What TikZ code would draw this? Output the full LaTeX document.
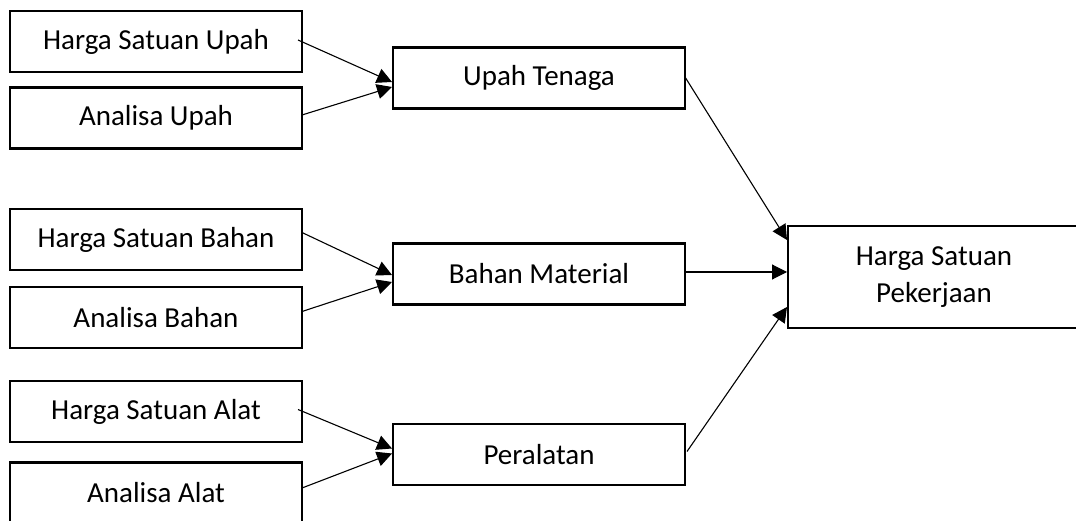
\documentclass[tikz,border=0pt]{standalone}
\usepackage{fontspec}
\setmainfont{Carlito}
\usetikzlibrary{arrows.meta,calc}

\tikzset{
  box/.style={draw=black, line width=2.6pt, fill=white, minimum width=292pt,
    minimum height=61pt, inner sep=0pt, outer sep=0pt, align=center,
    font=\fontsize{29}{36.7}\selectfont},
  bigbox/.style={box, minimum height=102pt},
  arr/.style={draw=black, line width=1.1pt,
    -{Triangle[length=15pt,width=15pt]}},
}

\begin{document}
\begin{tikzpicture}[x=1pt,y=-1pt]
  \clip (0,0) rectangle (1076,521);
  \fill[white] (0,0) rectangle (1076,521);

  % inputs
  \node[box] (hsu) at (156,41.5)  {Harga Satuan Upah};
  \node[box] (au)  at (156,118)   {Analisa Upah};
  \node[box] (hsb) at (156,239.5) {Harga Satuan Bahan};
  \node[box] (ab)  at (156,317.5) {Analisa Bahan};
  \node[box] (hsa) at (156,411.5) {Harga Satuan Alat};
  \node[box] (aa)  at (156,493)   {Analisa Alat};

  % cost components
  \node[box] (ut) at (539,78)    {Upah Tenaga};
  \node[box] (bm) at (539,274)   {Bahan Material};
  \node[box] (pe) at (539,454.5) {Peralatan};

  % result
  \node[bigbox] (hsp) at (934,277) {Harga Satuan\\Pekerjaan};

  % connectors into the components
  \draw[arr] ($(hsu.east)+(-4,-1.5)$) -- ($(ut.west)+(-1,4)$);
  \draw[arr] ($(au.east)+(0,-3)$)     -- ($(ut.west)+(-1,9)$);
  \draw[arr] ($(hsb.east)+(0,-7)$)    -- ($(bm.west)+(-1,1)$);
  \draw[arr] ($(ab.east)+(0,-6)$)     -- ($(bm.west)+(-1,8)$);
  \draw[arr] ($(hsa.east)+(-4,-2)$)   -- ($(pe.west)+(-1,-6)$);
  \draw[arr] ($(aa.east)+(0,-5)$)     -- ($(pe.west)+(-1,-1)$);

  % connectors into the result
  \draw[arr] ($(ut.east)+(0,-1)$) -- ($(hsp.north west)+(-1,14)$);
  \draw[arr] ($(bm.east)+(0,-2)$) -- ($(hsp.west)+(-1,-5)$);
  \draw[arr] ($(pe.east)+(2,-3)$) -- ($(hsp.south west)+(-1,-21)$);
\end{tikzpicture}
\end{document}
